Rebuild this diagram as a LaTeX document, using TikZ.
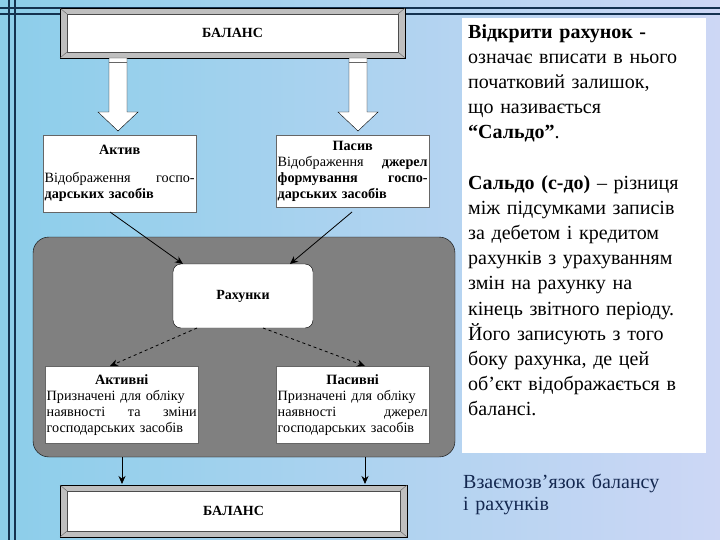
\documentclass[tikz,border=0pt]{standalone}
\usepackage{fontspec}
\setmainfont{Liberation Serif}
\usetikzlibrary{arrows.meta}
\begin{document}
\begin{tikzpicture}[x=1pt,y=-1pt,
  box/.style={draw=black!60,fill=white,inner sep=1.5pt,font=\fontsize{14.2}{16}\selectfont,text width=#1,align=left},
  ln/.style={draw=black,line width=0.8pt},
  tip/.style={-{Stealth[length=8pt,width=7pt]}}]
\useasboundingbox (0,0) rectangle (720,540);
\fill[left color={rgb,255:red,140;green,206;blue,234}, right color={rgb,255:red,205;green,215;blue,245}] (0,0) rectangle (720,540);
% frame lines
\foreach \v in {8,14}{\draw[line width=1.6pt,color={rgb,255:red,20;green,50;blue,80}] (0,\v) -- (720,\v);}
\foreach \v in {9,15}{\draw[line width=1.6pt,color={rgb,255:red,20;green,50;blue,80}] (\v,0) -- (\v,540);}
% bevel frame
\newcommand\bevel[5]{%
  \filldraw[draw=black,fill=black!25] (#1,#2) rectangle (#3,#4);
  \filldraw[draw=black!70,fill=white] (#1+7,#2+6) rectangle (#3-7,#4-6);
  \draw[black!60] (#1,#2)--(#1+7,#2+6) (#3,#2)--(#3-7,#2+6) (#1,#4)--(#1+7,#4-6) (#3,#4)--(#3-7,#4-6);
  \node[font=\fontsize{14}{16}\selectfont\bfseries] (#5) at ({(#1+#3)/2},{(#2+#4)/2}) {БАЛАНС};}
\bevel{60}{8}{405}{58}{bal1}
% block arrows
\foreach \cx in {118,358}{
 \filldraw[draw=black,fill=white] (\cx-9,58) -- (\cx+9,58) -- (\cx+9,112) -- (\cx+20,112) -- (\cx,131) -- (\cx-20,112) -- (\cx-9,112) -- cycle;
 \draw[black!60] (\cx-9,62) -- (\cx+9,62);}
% upper boxes
\node[box=150pt,anchor=north west,minimum height=77pt] (aktiv) at (43,135) {\makebox[\linewidth]{\textbf{Актив}}\\[12pt]
Відображення\hfill госпо-\\\textbf{дарських засобів}};
\node[box=150pt,anchor=north west,minimum height=72pt] (pasiv) at (276,135) {\makebox[\linewidth]{\textbf{Пасив}}\\
Відображення\hfill \textbf{джерел}\\\textbf{формування\hfill госпо-}\\\textbf{дарських засобів}};
% gray area
\filldraw[draw=black,fill=black!50,rounded corners=16pt] (33,237) rectangle (455,457);
\node[draw=black,fill=white,rounded corners=8pt,minimum width=140pt,minimum height=64pt,font=\fontsize{14}{16}\selectfont\bfseries] (rah) at (243,296) {Рахунки};
\node[box=150pt,anchor=north west,minimum height=77pt] (akt2) at (45,366) {\makebox[\linewidth]{\textbf{Активні}}\\
Призначені для обліку\\наявності\hfill та\hfill зміни\\господарських засобів};
\node[box=150pt,anchor=north west,minimum height=77pt] (pas2) at (276,366) {\makebox[\linewidth]{\textbf{Пасивні}}\\
Призначені для обліку\\наявності\hfill джерел\\господарських засобів};
\draw[ln,tip] (110,212) -- (183,264);
\draw[ln,tip] (352,212) -- (290,264);
\draw[ln,dashed,tip] (197,328) -- (110,366);
\draw[ln,dashed,tip] (263,328) -- (365,366);
\coordinate (g1) at (122,457); \coordinate (g2) at (365,457);
\bevel{60}{485}{407}{537}{bal2}
\draw[ln,tip] (g1) -- (122,484);
\draw[ln,tip] (g2) -- (365,484);
% right panel
\fill[white] (462,18) rectangle (706,453);
\node[anchor=north west,text width=240pt,align=left,inner sep=0pt,font=\fontsize{20}{25.2}\selectfont] (txt) at (468,24) {\textbf{Відкрити рахунок -}\\означає вписати в нього\\початковий залишок,\\що називається\\\textbf{“Сальдо”}.\\[25pt]
\textbf{Сальдо (с-до)} – різниця\\між підсумками записів\\за дебетом і кредитом\\рахунків з урахуванням\\змін на рахунку на\\кінець звітного періоду.\\Його записують з того\\боку рахунка, де цей\\об’єкт відображається в\\балансі.};
\node[anchor=north west,text width=256pt,align=left,inner sep=0pt,font=\fontsize{20}{22}\selectfont,color={rgb,255:red,20;green,40;blue,80}] (cap) at (463,474) {Взаємозв’язок балансу\\і рахунків};
\end{tikzpicture}
\end{document}
